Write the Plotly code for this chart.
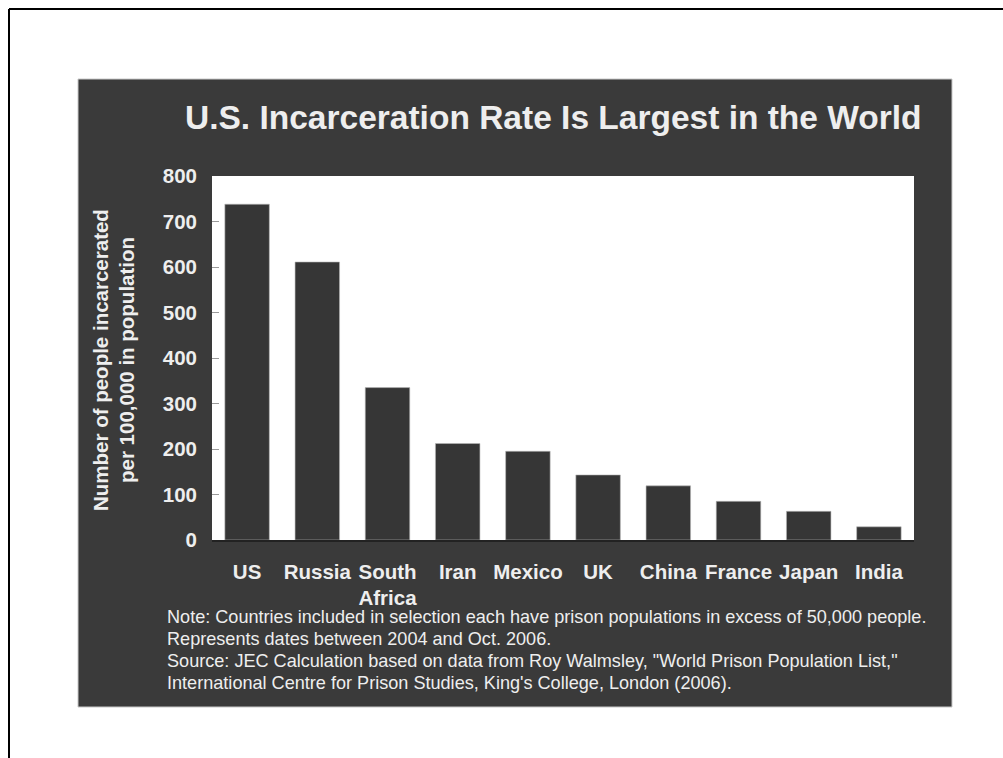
import plotly.graph_objects as go

countries = ["US", "Russia", "South<br>Africa", "Iran", "Mexico", "UK", "China", "France", "Japan", "India"]
rates = [738, 611, 335, 212, 195, 143, 119, 85, 63, 29]
y_ticks = [0, 100, 200, 300, 400, 500, 600, 700, 800]

title_text = "U.S. Incarceration Rate Is Largest in the World"
y_title_lines = ["Number of people incarcerated", "per 100,000 in population"]
note_lines = [
    "Note: Countries included in selection each have prison populations in excess of 50,000 people.",
    "Represents dates between 2004 and Oct. 2006.",
    "Source: JEC Calculation based on data from Roy Walmsley, \"World Prison Population List,\"",
    "International Centre for Prison Studies, King's College, London (2006).",
]

W, H = 1003, 758
# plot area in page pixels
L, R, T, B = 212, 914, 176, 540
pw, ph = R - L, B - T

def px(x):
    return (x - L) / pw

def py(y):
    return (B - y) / ph

PANEL = "#3a3a3a"
TXT = "#eeeeee"
FONT = "Liberation Sans, Arial, sans-serif"

fig = go.Figure(go.Bar(
    x=countries, y=rates,
    marker=dict(color="#363636", line=dict(color="#b8b8b8", width=0.6)),
))

annotations = [
    dict(text="<b>" + title_text + "</b>", xref="paper", yref="paper",
         x=px(553), y=py(118), xanchor="center", yanchor="middle",
         showarrow=False, font=dict(size=33.5, color=TXT, family=FONT)),
]
for xc, line in zip([100, 126], y_title_lines):
    annotations.append(dict(text="<b>" + line + "</b>", xref="paper", yref="paper",
                            x=px(xc), y=py(360), xanchor="center", yanchor="middle",
                            textangle=-90, showarrow=False,
                            font=dict(size=20.5, color=TXT, family=FONT)))
for yc, line in zip([617, 639, 661, 683], note_lines):
    annotations.append(dict(text=line, xref="paper", yref="paper",
                            x=px(165), y=py(yc), xanchor="left", yanchor="middle",
                            showarrow=False, font=dict(size=18.1, color=TXT, family=FONT)))

fig.update_layout(
    width=W, height=H,
    margin=dict(l=L, r=W - R, t=T, b=H - B, pad=0),
    paper_bgcolor="white", plot_bgcolor="white",
    bargap=0.366, showlegend=False,
    font=dict(family=FONT, color=TXT),
    shapes=[
        dict(type="rect", xref="paper", yref="paper", layer="below",
             x0=px(78), x1=px(952), y0=py(707), y1=py(79),
             fillcolor=PANEL, line=dict(color="#c8c8c8", width=1)),
        dict(type="rect", xref="paper", yref="paper", layer="below",
             x0=0, x1=1, y0=0, y1=1, fillcolor="white", line=dict(width=0)),
        dict(type="line", xref="paper", yref="paper",
             x0=px(9), x1=px(1003), y0=py(9), y1=py(9),
             line=dict(color="black", width=2)),
        dict(type="line", xref="paper", yref="paper",
             x0=px(9), x1=px(9), y0=py(9), y1=py(758),
             line=dict(color="black", width=2)),
    ],
    annotations=annotations,
)

fig.update_xaxes(
    showline=True, linecolor="#222222", linewidth=2,
    ticks="", showgrid=False,
    tickfont=dict(size=20.5, color=TXT, family=FONT, weight="bold"),
    ticklabelstandoff=12,
)
fig.update_yaxes(
    range=[0, 800], tickvals=y_ticks, showgrid=False, zeroline=False,
    showline=False, ticks="inside", ticklen=7, tickcolor="#9a9a9a", tickwidth=1,
    tickfont=dict(size=20.5, color=TXT, family=FONT, weight="bold"),
    ticklabelstandoff=14,
)

fig.write_html(
    "out.html",
    config={"displayModeBar": False},
    post_script="document.body.style.margin='0';document.documentElement.style.overflow='hidden';",
)
